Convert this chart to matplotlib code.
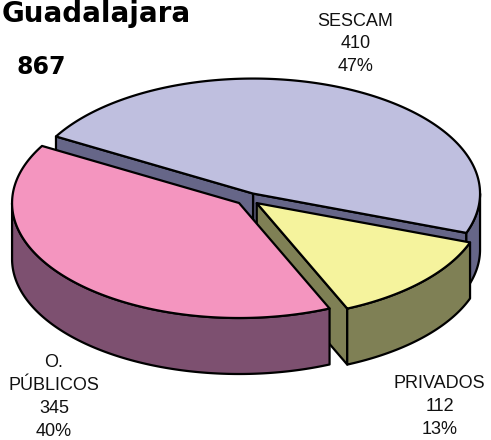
import numpy as np
import matplotlib
matplotlib.use("Agg")
import matplotlib.pyplot as plt
from matplotlib.patches import Polygon

# --- Data ---
categories = ["SESCAM", "O.\nPÚBLICOS", "PRIVADOS"]
values = [410, 345, 112]
percents = [47, 40, 13]
title = "Guadalajara"
total = "867"

# --- Colours ---
top_colors = ["#BFBFDF", "#F495BF", "#F5F39D"]
side_colors = ["#666688", "#7D5070", "#7F8055"]

# --- Pie geometry (pixels, y pointing down) ---
cx, cy = 248, 199
rx, ry = 227, 115
depth = 56
explode = 12
start = -20.0
lw = 1.6

fig = plt.figure(figsize=(4.91, 4.40), dpi=100)
ax = fig.add_axes([0, 0, 1, 1])
ax.set_xlim(0, 491)
ax.set_ylim(440, 0)
ax.axis("off")

# angles of every slice from the values
spans = 360.0 * np.array(values) / sum(values)
starts = start + np.concatenate([[0], np.cumsum(spans)[:-1]])


def rim(ox, oy, a0, a1, dy=0):
    t = np.radians(np.linspace(a0, a1, 200))
    return np.column_stack([ox + rx * np.cos(t), oy - ry * np.sin(t) + dy])


def shape(pts, color, z):
    ax.add_patch(Polygon(pts, closed=True, facecolor=color, edgecolor="black",
                         linewidth=lw, joinstyle="round", zorder=z))


# back to front: SESCAM, PRIVADOS, O. PUBLICOS
for z, i in enumerate([0, 2, 1]):
    a0, a1 = starts[i], starts[i] + spans[i]
    mid = np.radians((a0 + a1) / 2)
    ox = cx + explode * np.cos(mid)
    oy = cy - explode * np.sin(mid) * 0.5
    base = z * 10

    # cut faces
    for a in (a0, a1):
        p = rim(ox, oy, a, a + 1e-6)[0]
        # only faces turned to the viewer show
        if i == 0 or (i == 2 and a == a0):
            face = [(ox, oy), p, (p[0], p[1] + depth), (ox, oy + depth)]
            shape(face, side_colors[i], base + 1)

    # outer wall, front half of the rim only
    lo, hi = a0, a1
    walls = []
    for shift in (-360, 0):
        w0, w1 = max(lo + shift, -180), min(hi + shift, 0)
        if w1 > w0:
            walls.append((w0, w1))
    for w0, w1 in walls:
        pts = np.vstack([rim(ox, oy, w0, w1), rim(ox, oy, w1, w0, depth)])
        shape(pts, side_colors[i], base + 2)

    # top
    pts = np.vstack([[(ox, oy)], rim(ox, oy, a0, a1)])
    shape(pts, top_colors[i], base + 3)

# --- Labels ---
label_pos = [(355.5, 44), (54, 397), (439.5, 406.5)]
for cat, val, pct, (x, y) in zip(categories, values, percents, label_pos):
    ax.text(x, y, f"{cat}\n{val}\n{pct}%", ha="center", va="center",
            family="Liberation Sans", fontsize=13, color="#111111",
            linespacing=1.46, zorder=100)

ax.text(2, 22, title, ha="left", va="baseline", family="DejaVu Sans",
        fontweight="bold", fontsize=20, color="black", zorder=100)
ax.text(16, 74, total, ha="left", va="baseline", family="DejaVu Sans",
        fontweight="bold", fontsize=17, color="black", zorder=100)

fig.savefig("out.png", dpi=100, facecolor="white")
